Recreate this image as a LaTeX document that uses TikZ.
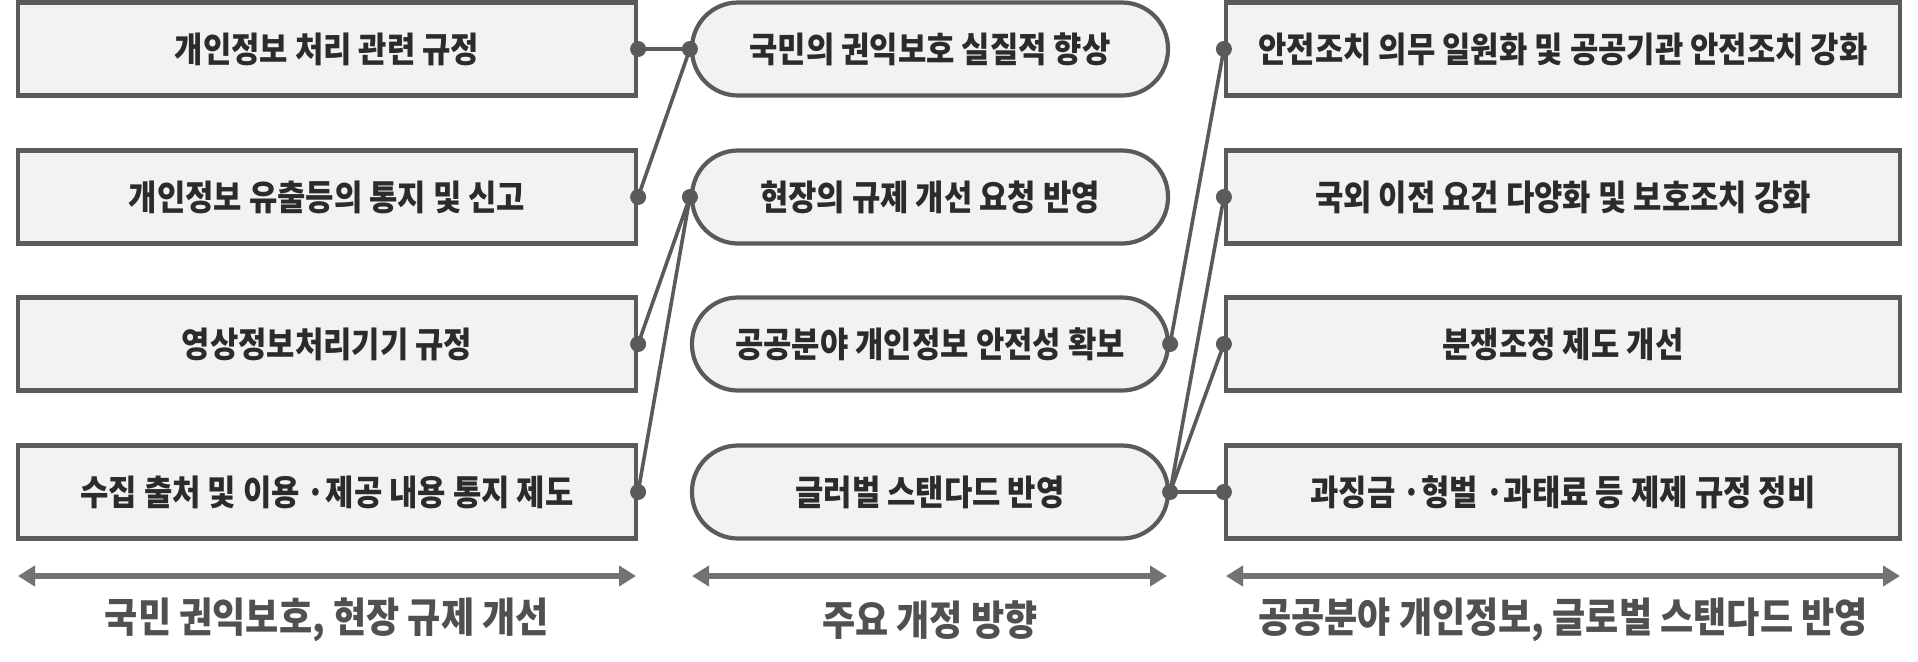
\documentclass[tikz,border=0pt]{standalone}
\usepackage{fontspec}
\setmainfont{Noto Sans CJK KR}
\newfontfamily\narrowkr[FakeStretch=0.88]{Noto Sans CJK KR}
\usetikzlibrary{arrows.meta}
\definecolor{bord}{HTML}{5A5A5A}
\definecolor{boxfill}{HTML}{F2F2F2}
\definecolor{txt}{HTML}{2B2B2B}
\definecolor{arr}{HTML}{767171}
\definecolor{lab}{HTML}{505050}
\tikzset{
  base/.style={draw=bord, line width=2.1pt, fill=boxfill, inner sep=0pt, text=txt, font=\narrowkr\fontsize{17.5}{20}\selectfont\bfseries, minimum height=46.5pt},
  lbox/.style={base, minimum width=309pt},
  rbox/.style={base, minimum width=337pt},
  mbox/.style={base, minimum width=238pt, rounded corners=23pt},
  link/.style={draw=bord, line width=1.8pt},
  dot/.style={circle, fill=bord, inner sep=0pt, minimum size=8pt},
  span/.style={draw=arr, line width=2.8pt, {Triangle[length=8.5pt,width=10pt]}-{Triangle[length=8.5pt,width=10pt]}},
  captxt/.style={text=lab, font=\narrowkr\fontsize{20.5}{24}\selectfont\bfseries},
}
\begin{document}
\begin{tikzpicture}[x=0.5pt,y=-0.5pt]
\useasboundingbox (0,0) rectangle (1918,661);
% left column
\node[lbox] (l1) at (327,49) {개인정보 처리 관련 규정};
\node[lbox] (l2) at (327,197) {개인정보 유출등의 통지 및 신고};
\node[lbox] (l3) at (327,344) {영상정보처리기기 규정};
\node[lbox] (l4) at (327,492) {수집 출처 및 이용 ·제공 내용 통지 제도};
% middle column
\node[mbox] (m1) at (930,49) {국민의 권익보호 실질적 향상};
\node[mbox] (m2) at (930,197) {현장의 규제 개선 요청 반영};
\node[mbox] (m3) at (930,344) {공공분야 개인정보 안전성 확보};
\node[mbox] (m4) at (930,492) {글러벌 스탠다드 반영};
% right column
\node[rbox] (r1) at (1563,49) {안전조치 의무 일원화 및 공공기관 안전조치 강화};
\node[rbox] (r2) at (1563,197) {국외 이전 요건 다양화 및 보호조치 강화};
\node[rbox] (r3) at (1563,344) {분쟁조정 제도 개선};
\node[rbox] (r4) at (1563,492) {과징금 ·형벌 ·과태료 등 제제 규정 정비};
% connectors
\draw[link] (l1.east) -- (m1.west);
\draw[link] (l2.east) -- (m1.west);
\draw[link] (l3.east) -- (m2.west);
\draw[link] (l4.east) -- (m2.west);
\draw[link] (m3.east) -- (r1.west);
\draw[link] (m4.east) -- (r2.west);
\draw[link] (m4.east) -- (r3.west);
\draw[link] (m4.east) -- (r4.west);
% dots
\foreach \n in {l1,l2,l3,l4} \node[dot] at (\n.east) {};
\foreach \n in {m1,m2} \node[dot] at (\n.west) {};
\foreach \n in {m3,m4} \node[dot] at (\n.east) {};
\foreach \n in {r1,r2,r3,r4} \node[dot] at (\n.west) {};
% spans
\coordinate (a1) at (18,576); \coordinate (a2) at (636,576);
\coordinate (b1) at (692,576); \coordinate (b2) at (1167,576);
\coordinate (c1) at (1226,576); \coordinate (c2) at (1900,576);
\draw[span] (a1) -- (a2);
\draw[span] (b1) -- (b2);
\draw[span] (c1) -- (c2);
\node[captxt] (t1) at (327,620) {국민 권익보호, 현장 규제 개선};
\node[captxt] (t2) at (930,620) {주요 개정 방향};
\node[captxt] (t3) at (1563,620) {공공분야 개인정보, 글로벌 스탠다드 반영};
\end{tikzpicture}
\end{document}
